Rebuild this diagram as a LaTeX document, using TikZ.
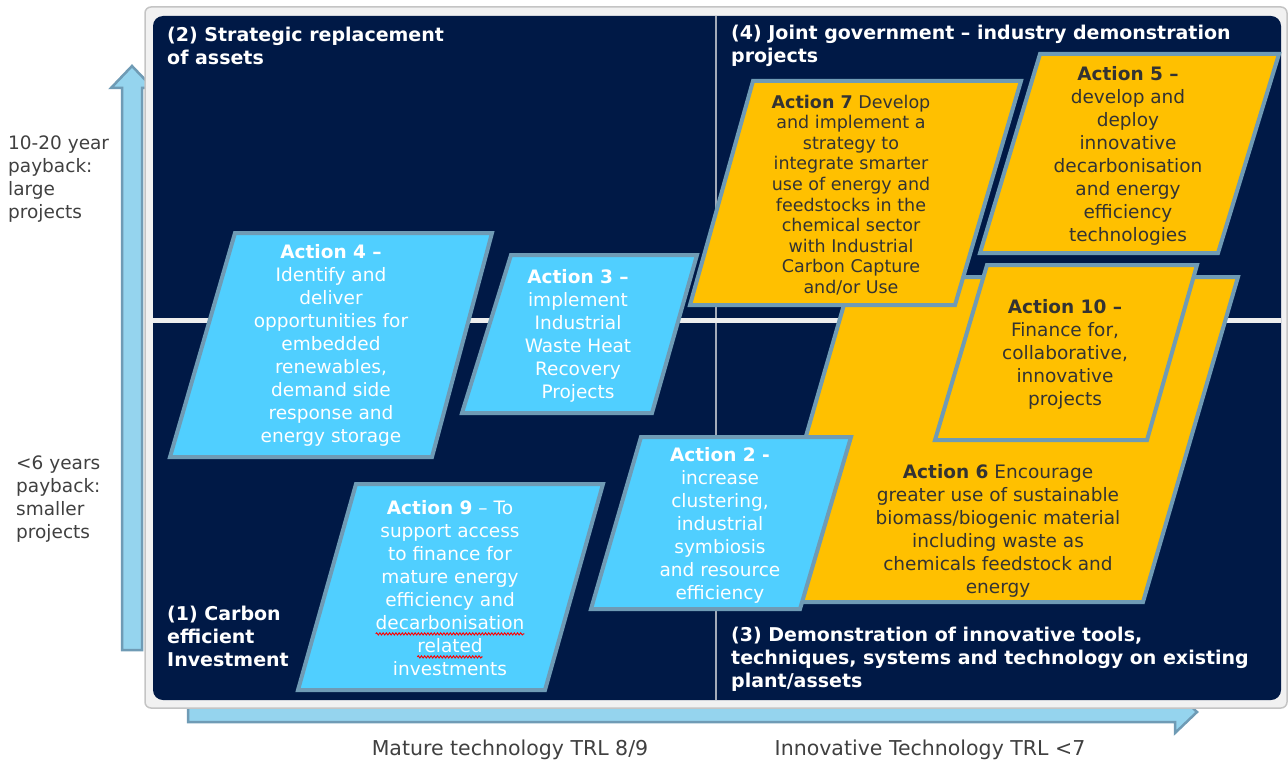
\documentclass[tikz,border=0pt]{standalone}
\usepackage{fontspec}
\setmainfont{DejaVu Sans}
\usetikzlibrary{decorations.pathmorphing}

\definecolor{navy}{HTML}{001946}
\definecolor{skyfill}{HTML}{50CFFF}
\definecolor{gold}{HTML}{FFC000}
\definecolor{edgeblue}{HTML}{6F9BB5}
\definecolor{arrowfill}{HTML}{95D4EE}
\definecolor{framegray}{HTML}{C4C4C4}
\definecolor{framefill}{HTML}{F1F1F1}
\definecolor{inktext}{HTML}{333333}
\definecolor{labeltext}{HTML}{404040}
\definecolor{divider}{HTML}{A3ABB9}
\definecolor{bandline}{HTML}{EEEEEE}

\newcommand\boxfont{\fontsize{18.5}{23}\selectfont}
\newcommand\narrowboxfont{\fontsize{17.5}{20.6}\selectfont}
\newcommand\titlefont{\bfseries\fontsize{19}{23}\selectfont}
\newcommand\axisfont{\fontsize{20.5}{24}\selectfont}

% word with a red wavy spell-check underline
\newcommand\redwave[1]{\tikz[baseline=(w.base), x=1pt, y=1pt]{%
  \node[inner sep=0pt, outer sep=0pt] (w) {#1};
  \draw[red, line width=0.9pt, decorate,
        decoration={snake, amplitude=1.1pt, segment length=3.2pt}]
    ([yshift=-4pt]w.base west) -- ([yshift=-4pt]w.base east);}}

\tikzset{
  bluebox/.style={fill=skyfill, draw=edgeblue, line width=4pt, line join=miter},
  goldbox/.style={fill=gold, draw=edgeblue, line width=4pt, line join=miter},
  bluetext/.style={text=white, align=center, font=\boxfont, inner sep=0pt},
  goldtext/.style={text=inktext, align=center, font=\boxfont, inner sep=0pt},
  quadtitle/.style={text=white, align=left, font=\titlefont, inner sep=0pt, anchor=west},
  sidelabel/.style={text=labeltext, align=left, font=\boxfont, inner sep=0pt, anchor=west},
  axislabel/.style={text=labeltext, font=\axisfont, inner sep=0pt},
  axisarrow/.style={fill=arrowfill, draw=edgeblue, line width=2.5pt, line join=miter},
}

\begin{document}
\begin{tikzpicture}[x=1pt, y=-1pt]
\useasboundingbox (0,0) rectangle (1288,765);

% axis arrows (partly hidden behind the frame)
\filldraw[axisarrow] (122,650) -- (122,88) -- (111,88) -- (132,66) -- (153,88)
  -- (142,88) -- (142,650) -- cycle;
\filldraw[axisarrow] (188,703) -- (1175,703) -- (1175,691) -- (1197,712)
  -- (1175,733) -- (1175,722) -- (188,722) -- cycle;

% frame and dark panel
\filldraw[fill=framefill, draw=framegray, line width=1.5pt, rounded corners=6pt]
  (145,7) rectangle (1287,708);
\fill[navy, rounded corners=10pt] (153,16) rectangle (1281,700);

% quadrant dividers
\draw[divider, line width=1.5pt] (716,16) -- (716,700);
\draw[bandline, line width=5pt] (153,320) -- (1281,320);

% quadrant titles
\node[quadtitle] (q2) at (167,46) {(2) Strategic replacement\\of assets};
\node[quadtitle] (q4) at (731,46) {(4) Joint government – industry demonstration\\projects};
\node[quadtitle] (q1) at (167,636) {(1) Carbon\\efficient\\Investment};
\node[quadtitle] (q3) at (731,659) {(3) Demonstration of innovative tools,\\techniques, systems and technology on existing\\plant/assets};

% innovative actions (gold)
\filldraw[goldbox] (852,277) -- (1238,277) -- (1143,602) -- (758,602) -- cycle;
\node[goldtext] (a6) at (998,531) {\textbf{Action 6} Encourage\\greater use of sustainable\\biomass/biogenic material\\including waste as\\chemicals feedstock and\\energy};

\filldraw[goldbox] (987,265) -- (1197,265) -- (1147,440) -- (935,440) -- cycle;
\node[goldtext] (a10) at (1065,354) {\textbf{Action 10 –}\\Finance for,\\collaborative,\\innovative\\projects};

\filldraw[goldbox] (753,81) -- (1021,81) -- (955,305) -- (690,305) -- cycle;
\node[goldtext, font=\narrowboxfont] (a7) at (851,195) {\textbf{Action 7} Develop\\and implement a\\strategy to\\integrate smarter\\use of energy and\\feedstocks in the\\chemical sector\\with Industrial\\Carbon Capture\\and/or Use};

\filldraw[goldbox] (1040,54) -- (1279,54) -- (1218,253) -- (980,253) -- cycle;
\node[goldtext] (a5) at (1128,155.5) {\textbf{Action 5 –}\\develop and\\deploy\\innovative\\decarbonisation\\and energy\\efficiency\\technologies};

% mature actions (blue)
\filldraw[bluebox] (235,233) -- (492,233) -- (432,457) -- (170,457) -- cycle;
\node[bluetext] (a4) at (331,345.5) {\textbf{Action 4 –}\\Identify and\\deliver\\opportunities for\\embedded\\renewables,\\demand side\\response and\\energy storage};

\filldraw[bluebox] (511,255) -- (697,255) -- (652,413) -- (462,413) -- cycle;
\node[bluetext] (a3) at (578,335.5) {\textbf{Action 3 –}\\implement\\Industrial\\Waste Heat\\Recovery\\Projects};

\filldraw[bluebox] (641,437) -- (851,437) -- (800,609) -- (591,609) -- cycle;
\node[bluetext] (a2) at (720,525.5) {\textbf{Action 2 -}\\increase\\clustering,\\industrial\\symbiosis\\and resource\\efficiency};

\filldraw[bluebox] (356,484) -- (603,484) -- (545,690) -- (298,690) -- cycle;
\node[bluetext] (a9) at (450,588.5) {\textbf{Action 9} – To\\support access\\to finance for\\mature energy\\efficiency and\\\redwave{decarbonisation}\\\redwave{related}\\investments};

% payback labels
\node[sidelabel] (long) at (8,179) {10-20 year\\payback:\\large\\projects};
\node[sidelabel] (short) at (16,499) {<6 years\\payback:\\smaller\\projects};

% technology maturity labels
\node[axislabel] (mature) at (510,750) {Mature technology TRL 8/9};
\node[axislabel] (innov) at (930,750) {Innovative Technology TRL <7};

\end{tikzpicture}
\end{document}
